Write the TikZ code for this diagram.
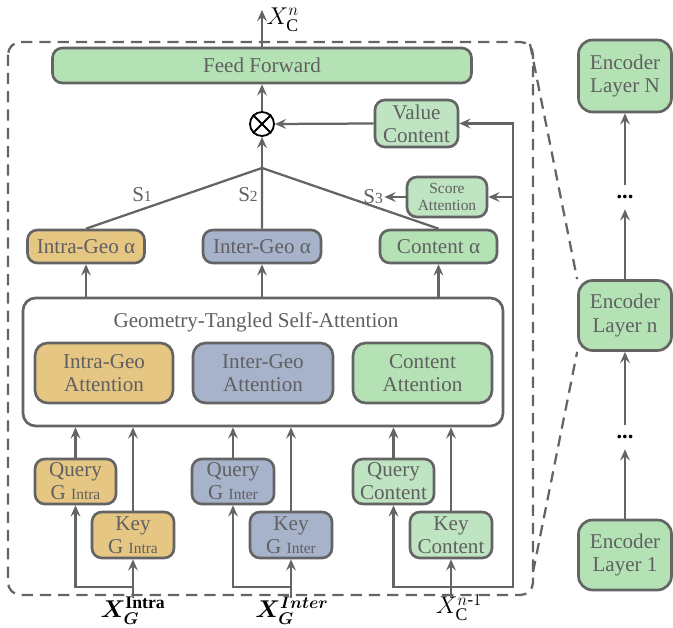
\documentclass[tikz,border=0pt]{standalone}
\usepackage{amsmath}
\usepackage{bm}
\usepackage{fontspec}
\setmainfont{Liberation Serif}
\usetikzlibrary{arrows.meta}
\definecolor{mygreen}{RGB}{180,226,181}
\definecolor{mylightgreen}{RGB}{190,228,193}
\definecolor{mytan}{RGB}{230,198,131}
\definecolor{myblue}{RGB}{166,179,203}
\definecolor{myedge}{RGB}{100,100,100}
\definecolor{mytext}{RGB}{96,96,96}

\begin{document}
\begin{tikzpicture}[x=0.025cm,y=-0.025cm,
    box/.style={draw=myedge,line width=1.9pt,rounded corners=7pt,text=mytext,align=center,inner sep=0pt,
        font=\fontsize{15}{16.5}\selectfont},
    sz/.style 2 args={minimum width=#1*0.025cm,minimum height=#2*0.025cm},
    arr/.style={draw=myedge,line width=1.6pt,-{Stealth[length=8pt,width=7pt,inset=3pt]}},
    ln/.style={draw=myedge,line width=1.6pt},
    lbl/.style={text=mytext,inner sep=1pt,font=\fontsize{15}{16.5}\selectfont},
    inp/.style={anchor=north,inner sep=0pt,font=\fontsize{18}{18}\selectfont}]
        \useasboundingbox (0,0) rectangle (673,628);
        % outer dashed frame
        \draw[myedge,line width=1.6pt,dash pattern=on 8pt off 5pt,rounded corners=9pt] (8,42) rectangle (533,595);
        \coordinate (dtr) at (530,44);
        \coordinate (dbr) at (533,572);

        % top part
        \node[box,fill=mygreen,sz={419}{35}] (ff) at (262,65.5) {Feed Forward};
        \node[circle,draw=black,line width=1.3pt,minimum size=24*0.025cm,inner sep=0pt] (mul) at (262,124) {};
        \draw[black,line width=1.3pt] (mul.north west) -- (mul.south east) (mul.north east) -- (mul.south west);
        \node[box,fill=mylightgreen,sz={83}{47}] (value) at (416.5,123.5) {Value\\Content};
        \node[box,fill=mylightgreen,sz={80}{40},font=\fontsize{11}{12.5}\selectfont] (score) at (447,197) {Score\\Attention};
        \coordinate (jn) at (262,168);
        \coordinate (out) at (262,10);
        \node[anchor=west,inner sep=1pt,font=\fontsize{18}{18}\selectfont] (xout) at (265,20) {$X_{\mathrm{C}}^{n}$};

        % alpha boxes
        \node[box,fill=mytan,sz={117}{33}] (intraa) at (86,246.5) {Intra-Geo α};
        \node[box,fill=myblue,sz={118}{33}] (intera) at (262,246.5) {Inter-Geo α};
        \node[box,fill=mygreen,sz={117}{33}] (conta) at (438.5,246.5) {Content α};
        \node[lbl] (s1) at (142,195) {S{\fontsize{11}{11}\selectfont 1}};
        \node[lbl] (s2) at (248,195) {S{\fontsize{11}{11}\selectfont 2}};
        \node[lbl] (s3) at (373,197) {S{\fontsize{11}{11}\selectfont 3}};

        % geometry-tangled self-attention
        \node[box,fill=white,sz={480}{128},rounded corners=9pt] (gtsa) at (263,362) {};
        \node[lbl] (title) at (256,322) {Geometry-Tangled Self-Attention};
        \node[box,fill=mytan,sz={138}{60},rounded corners=9pt] (intraatt) at (104,373) {Intra-Geo\\Attention};
        \node[box,fill=myblue,sz={140}{60},rounded corners=9pt] (interatt) at (263,373) {Inter-Geo\\Attention};
        \node[box,fill=mygreen,sz={139}{60},rounded corners=9pt] (contatt) at (422.5,373) {Content\\Attention};

        % query and key
        \node[box,fill=mytan,sz={81}{45}] (qintra) at (75.5,481.5) {Query\\G {\fontsize{11}{11}\selectfont Intra}};
        \node[box,fill=mytan,sz={82}{46}] (kintra) at (133,535) {Key\\G {\fontsize{11}{11}\selectfont Intra}};
        \node[box,fill=myblue,sz={82}{45}] (qinter) at (233,481.5) {Query\\G {\fontsize{11}{11}\selectfont Inter}};
        \node[box,fill=myblue,sz={82}{46}] (kinter) at (291,535) {Key\\G {\fontsize{11}{11}\selectfont Inter}};
        \node[box,fill=mylightgreen,sz={81}{45}] (qcont) at (393.5,481.5) {Query\\Content};
        \node[box,fill=mylightgreen,sz={82}{46}] (kcont) at (451,535) {Key\\Content};

        % inputs
        \coordinate (inintra) at (133,598);
        \coordinate (ininter) at (291,598);
        \coordinate (incont) at (451,598);
        \coordinate (jintra) at (133,587);
        \coordinate (jinter) at (291,587);
        \coordinate (jcont) at (451,587);
        \coordinate (rtop) at (513,123.5);
        \node[inp] (xintra) at (133,597) {$\bm{X}_{\bm{G}}^{\mathbf{Intra}}$};
        \node[inp] (xinter) at (292,597) {$\bm{X}_{\bm{G}}^{\bm{Inter}}$};
        \node[inp] (xcont) at (459,594) {$X_{\mathrm{C}}^{n\text{-}1}$};

        % encoder stack
        \node[box,fill=mygreen,sz={93}{72},rounded corners=10pt] (layN) at (625,76) {Encoder\\Layer N};
        \node[box,fill=mygreen,sz={93}{70},rounded corners=10pt] (layn) at (625,315.5) {Encoder\\Layer n};
        \node[box,fill=mygreen,sz={93}{70},rounded corners=10pt] (lay1) at (625,555) {Encoder\\Layer 1};
        \node[inner sep=0pt,minimum height=24*0.025cm,font=\fontsize{16}{16}\selectfont] (dotsa) at (625,197) {\textbf{...}};
        \node[inner sep=0pt,minimum height=24*0.025cm,font=\fontsize{16}{16}\selectfont] (dotsb) at (625,437) {\textbf{...}};

        % connectors
        \draw[arr] (ff.north) -- (out);
        \draw[arr] (mul.north) -- (ff.south);
        \draw[arr] (jn) -- (mul.south);
        \draw[arr] (value.west) -- (mul.east);
        \draw[ln] (jn) -- (intraa.north) (jn) -- (intera.north) (jn) -- (conta.north);
        \draw[arr] (score.west) -- (s3.east);
        \foreach \a in {intraa,intera,conta}
            \draw[arr] (\a.south |- gtsa.north) -- (\a.south);
        \foreach \q in {qintra,kintra,qinter,kinter,qcont,kcont}
            \draw[arr] (\q.north) -- (\q.north |- gtsa.south);
        \draw[arr] (inintra) -- (kintra.south);
        \draw[arr] (jintra) -| (qintra.south);
        \draw[arr] (ininter) -- (kinter.south);
        \draw[arr] (jinter) -| (qinter.south);
        \draw[arr] (incont) -- (kcont.south);
        \draw[arr] (jcont) -| (qcont.south);
        \draw[arr] (jcont) -| (rtop) -- (value.east);
        \draw[arr] (score.east -| rtop) -- (score.east);
        \draw[arr] (lay1) -- (dotsb);
        \draw[arr] (dotsb) -- (layn);
        \draw[arr] (layn) -- (dotsa);
        \draw[arr] (dotsa) -- (layN);
        \draw[myedge,line width=1.6pt,dash pattern=on 8pt off 5pt] (dtr) -- (layn.north west) (dbr) -- (layn.south west);
    \end{tikzpicture}
\end{document}
